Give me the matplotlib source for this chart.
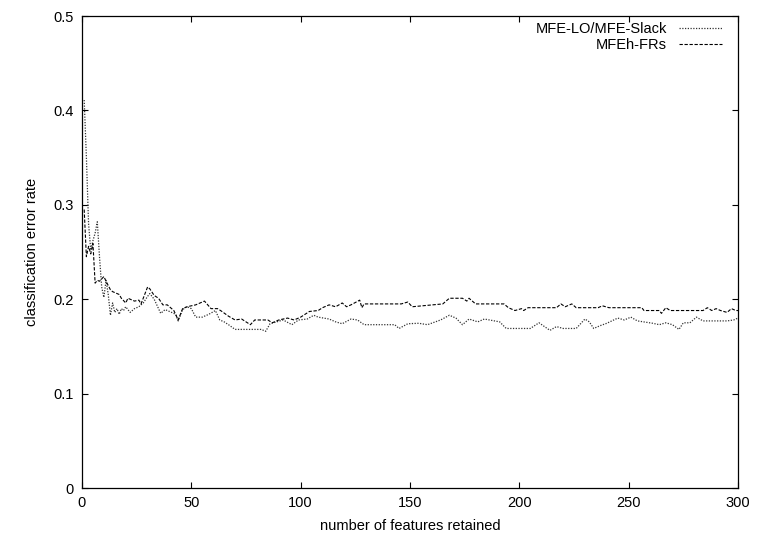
import matplotlib
matplotlib.use("Agg")
import matplotlib.pyplot as plt

plt.rcParams['font.family'] = ['Liberation Sans', 'DejaVu Sans']

# MFE-LO/MFE-Slack (dotted)
lo_feat = [1, 2, 3, 4, 5, 6, 7, 8, 9, 10,
           11, 12, 13, 14, 15, 16, 17, 18, 19, 20,
           22, 24, 26, 28, 30, 31, 33, 35, 36, 38,
           40, 42, 43, 44, 46, 48, 50, 52, 55, 58,
           61, 63, 65, 67, 70, 82, 84, 86, 89, 92,
           96, 99, 103, 106, 108, 113, 116, 119, 123, 126,
           129, 143, 145, 149, 154, 158, 164, 168, 171, 174,
           177, 181, 184, 191, 194, 205, 209, 214, 217, 220,
           226, 230, 232, 234, 237, 240, 245, 248, 251, 254,
           261, 264, 267, 270, 273, 275, 278, 281, 284, 295,
           298, 300]
lo_err = [0.411, 0.351, 0.28, 0.252, 0.262, 0.27, 0.282, 0.245, 0.213, 0.202,
          0.22, 0.205, 0.183, 0.196, 0.186, 0.19, 0.184, 0.19, 0.188, 0.192,
          0.186, 0.19, 0.192, 0.196, 0.203, 0.206, 0.2, 0.19, 0.185, 0.189,
          0.187, 0.185, 0.183, 0.177, 0.189, 0.192, 0.19, 0.181, 0.181, 0.184,
          0.188, 0.178, 0.176, 0.173, 0.168, 0.168, 0.166, 0.174, 0.176, 0.178,
          0.173, 0.178, 0.179, 0.183, 0.181, 0.179, 0.176, 0.174, 0.179, 0.178,
          0.173, 0.173, 0.169, 0.174, 0.1745, 0.173, 0.178, 0.183, 0.18, 0.173,
          0.179, 0.176, 0.179, 0.176, 0.169, 0.169, 0.175, 0.167, 0.171, 0.169,
          0.169, 0.179, 0.176, 0.169, 0.172, 0.1745, 0.18, 0.178, 0.181, 0.177,
          0.1745, 0.173, 0.175, 0.173, 0.168, 0.175, 0.175, 0.181, 0.177, 0.177,
          0.178, 0.18]

# MFEh-FRs (dashed)
fr_feat = [1, 2, 3, 4, 5, 6, 7, 8, 10,
           11, 13, 14, 17, 18, 20, 21, 24, 26, 27,
           30, 31, 33, 35, 37, 39, 42, 44, 46, 48,
           52, 55, 56, 59, 62, 64, 67, 70, 73, 77,
           79, 85, 87, 90, 94, 97, 100, 104, 108, 110,
           113, 116, 119, 121, 123, 127, 128, 129, 146, 149,
           151, 165, 168, 174, 176, 177, 180, 193, 195, 198,
           201, 202, 204, 217, 219, 221, 224, 226, 236, 238,
           241, 256, 257, 264, 265, 267, 269, 284, 286, 288,
           290, 292, 295, 297, 299, 300]
fr_err = [0.295, 0.245, 0.256, 0.248, 0.259, 0.217, 0.22, 0.219, 0.224,
          0.219, 0.21, 0.208, 0.205, 0.201, 0.196, 0.201, 0.198, 0.199, 0.195,
          0.213, 0.211, 0.204, 0.201, 0.194, 0.194, 0.188, 0.178, 0.19, 0.192,
          0.194, 0.197, 0.198, 0.19, 0.19, 0.187, 0.182, 0.178, 0.179, 0.173,
          0.178, 0.178, 0.175, 0.178, 0.18, 0.178, 0.181, 0.187, 0.188, 0.191,
          0.194, 0.192, 0.196, 0.192, 0.194, 0.199, 0.191, 0.195, 0.195, 0.197,
          0.192, 0.195, 0.201, 0.201, 0.198, 0.201, 0.195, 0.195, 0.191, 0.188,
          0.19, 0.188, 0.191, 0.191, 0.195, 0.192, 0.195, 0.191, 0.191, 0.193,
          0.191, 0.191, 0.188, 0.188, 0.185, 0.191, 0.188, 0.188, 0.191, 0.188,
          0.19, 0.188, 0.186, 0.19, 0.188, 0.188]

fig = plt.figure(figsize=(7.59, 5.44), dpi=100)
ax = fig.add_axes([82 / 759, 1 - 488 / 544, 656 / 759, 472 / 544])

ax.plot(lo_feat, lo_err, color='#333333', lw=0.9, ls=(0, (1, 1.2)),
        label='MFE-LO/MFE-Slack')
ax.plot(fr_feat, fr_err, color='black', lw=0.8, ls=(0, (3, 1.5)),
        label='MFEh-FRs')

ax.set_xlim(0, 300)
ax.set_ylim(0, 0.5)
ax.set_xticks([0, 50, 100, 150, 200, 250, 300])
ax.set_yticks([0, 0.1, 0.2, 0.3, 0.4, 0.5])
ax.set_yticklabels(['0', '0.1', '0.2', '0.3', '0.4', '0.5'])
ax.tick_params(direction='in', length=4, width=0.8, top=True, right=True,
               labelsize=10.5, pad=6)
for s in ax.spines.values():
    s.set_linewidth(0.9)

ax.set_xlabel('number of features retained', fontsize=10.5, labelpad=6)
ax.set_ylabel('classification error rate', fontsize=10.5, labelpad=10)

ax.legend(loc='upper right', frameon=False, markerfirst=False, fontsize=10.5,
          handlelength=3.0, handletextpad=0.8, labelspacing=0.15,
          borderaxespad=0.0, bbox_to_anchor=(0.985, 1.0))

fig.savefig('out.png', dpi=100)
